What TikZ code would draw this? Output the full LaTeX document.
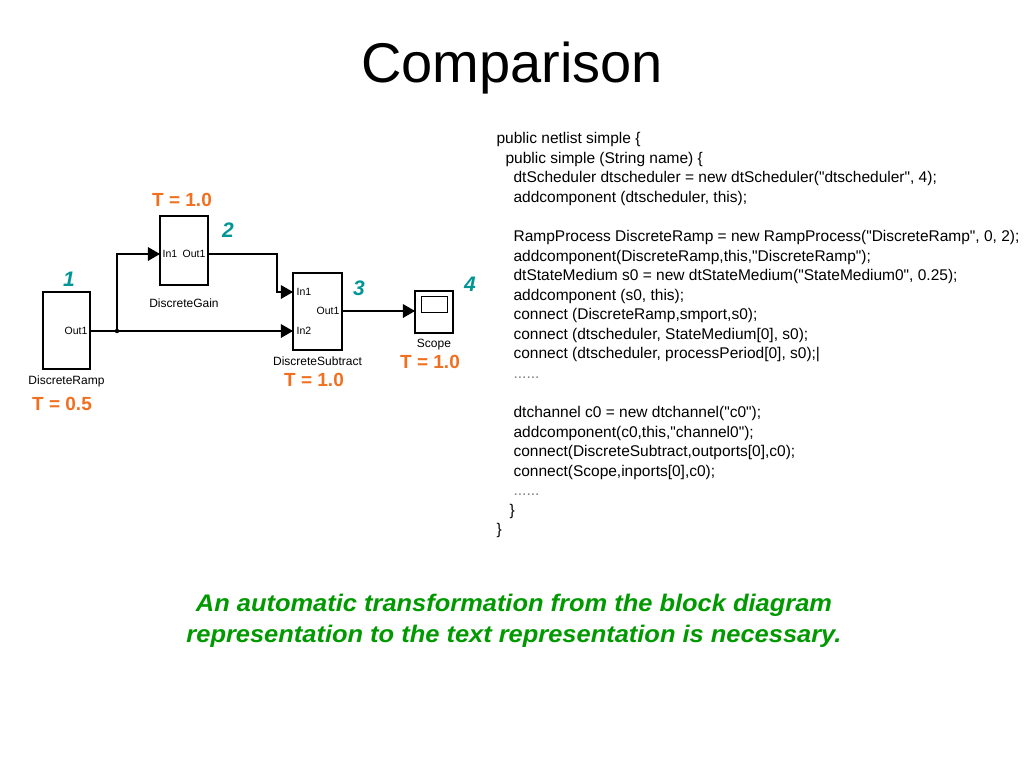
\documentclass[tikz,border=0pt]{standalone}
\usepackage{fontspec}
\setmainfont{Liberation Sans}
\newfontfamily\codefont{Liberation Sans}[Ligatures=ResetAll]
\usepackage{graphicx}
\usepackage{tikz}
\usetikzlibrary{arrows}
\usetikzlibrary{decorations.markings}
\usetikzlibrary{positioning}
\tikzset{->/.style = {decoration={markings,
                                  mark=at position 1 with {\arrow[scale=1.5]{triangle 60}}},
                      postaction={decorate}}}
\tikzset{block/.style = {draw, line width=1.2pt, inner sep=0pt, outer sep=0pt},
         port/.style = {font=\fontsize{10.5}{11}\selectfont, inner sep=0pt},
         blabel/.style = {font=\fontsize{12}{13}\selectfont, inner sep=0pt},
         period/.style = {font=\fontsize{19}{20}\selectfont\bfseries, text=morange, inner sep=0pt},
         num/.style = {font=\fontsize{21}{22}\selectfont\bfseries\itshape, text=mteal, inner sep=0pt}}
\definecolor{morange}{RGB}{240, 112, 32}
\definecolor{mteal}{RGB}{0, 150, 150}
\definecolor{mgreen}{RGB}{0, 153, 0}

\begin{document}
\begin{tikzpicture}[x=1pt, y=-1pt, line width=1.2pt]
    \useasboundingbox (0, 0) rectangle (1024, 768);
    \node [font=\fontsize{56}{60}\selectfont] (title) at (512, 68) {Comparison};

    % blocks
    \node [block, minimum width=47, minimum height=77] (ramp) at (66.5, 330.5) {};
    \node [block, minimum width=48, minimum height=69] (gain) at (184, 250.5) {};
    \node [block, minimum width=49, minimum height=77] (subtract) at (317.5, 311.5) {};
    \node [block, minimum width=38, minimum height=42] (scope) at (434, 312) {};
    \node [block, line width=1pt, minimum width=26, minimum height=16] (screen) at (434, 304.5) {};

    \node [port, anchor=east] (rampout) at (88, 331) {Out1};
    \node [port, anchor=west] (gainin) at (162, 254) {In1};
    \node [port, anchor=east] (gainout) at (206, 254) {Out1};
    \node [port, anchor=west] (subin1) at (296, 292) {In1};
    \node [port, anchor=west] (subin2) at (296, 331) {In2};
    \node [port, anchor=east] (subout) at (340, 311) {Out1};

    \node [blabel, below=6pt of ramp] (ramplabel) {DiscreteRamp};
    \node [blabel, below=13pt of gain] (gainlabel) {DiscreteGain};
    \node [blabel, below=6pt of subtract] (sublabel) {DiscreteSubtract};
    \node [blabel, below=6pt of scope] (scopelabel) {Scope};

    \node [num] (n1) at (69, 279) {1};
    \node [num] (n2) at (228, 230) {2};
    \node [num] (n3) at (359, 288) {3};
    \node [num] (n4) at (470, 284) {4};

    \node [period] (t1) at (62, 404) {T = 0.5};
    \node [period] (t2) at (182, 200) {T = 1.0};
    \node [period] (t3) at (314, 380) {T = 1.0};
    \node [period] (t4) at (430, 362) {T = 1.0};

    % signals
    \coordinate (split) at (117, 331);
    \fill (split) circle (2.2);
    \draw [->] (ramp.east |- rampout) -- (subtract.west |- subin2);
    \draw [->] (split) |- (gain.west |- gainin);
    \draw [->] (gain.east |- gainout) -- (277, 254) |- (subtract.west |- subin1);
    \draw [->] (subtract.east |- subout) -- (scope.west |- subout);

    % text version
    \node [anchor=north west, align=left, inner sep=0pt,
           font=\codefont\fontsize{15.5}{19.55}\selectfont] (code) at (496, 132) {%
public netlist simple \{\\
\hspace*{9pt}public simple (String name) \{\\
\hspace*{17pt}dtScheduler dtscheduler = new dtScheduler("dtscheduler", 4);\\
\hspace*{17pt}addcomponent (dtscheduler, this);\\
\mbox{}\\
\hspace*{17pt}RampProcess DiscreteRamp = new RampProcess("DiscreteRamp", 0, 2);\\
\hspace*{17pt}addcomponent(DiscreteRamp,this,"DiscreteRamp");\\
\hspace*{17pt}dtStateMedium s0 = new dtStateMedium("StateMedium0", 0.25);\\
\hspace*{17pt}addcomponent (s0, this);\\
\hspace*{17pt}connect (DiscreteRamp,smport,s0);\\
\hspace*{17pt}connect (dtscheduler, StateMedium[0], s0);\\
\hspace*{17pt}connect (dtscheduler, processPeriod[0], s0);|\\
\hspace*{17pt}{\color{gray}......}\\
\mbox{}\\
\hspace*{17pt}dtchannel c0 = new dtchannel("c0");\\
\hspace*{17pt}addcomponent(c0,this,"channel0");\\
\hspace*{17pt}connect(DiscreteSubtract,outports[0],c0);\\
\hspace*{17pt}connect(Scope,inports[0],c0);\\
\hspace*{17pt}{\color{gray}......}\\
\hspace*{13pt}\}\\
\}};

    \node [align=center, text=mgreen, font=\fontsize{24}{31}\selectfont\bfseries\itshape]
          (note) at (514, 621) {\scalebox{1.06}[1]{An automatic transformation from the block diagram}\\
                                \scalebox{1.06}[1]{representation to the text representation is necessary.}};
\end{tikzpicture}
\end{document}
